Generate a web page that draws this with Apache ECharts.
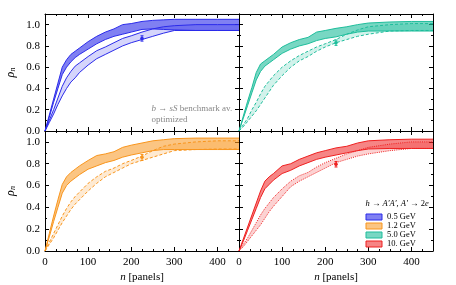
<!DOCTYPE html>
<html><head><meta charset="utf-8">
<script src="https://cdn.jsdelivr.net/npm/echarts@6/dist/echarts.min.js"></script>
<style>html,body{margin:0;padding:0;background:#fff}#c{width:456px;height:285px}</style>
</head><body><div id="c"></div>
<script>
// ---- data ----
const nPanels = [0,10,20,30,40,50,60,70,80,100,120,140,160,180,200,225,250,275,300,350,400,450];

const blueDarkUpper  = [0,0.15,0.30,0.45,0.60,0.67,0.72,0.75,0.78,0.84,0.89,0.93,0.96,1.00,1.01,1.03,1.04,1.045,1.05,1.05,1.05,1.05];
const blueDarkLower  = [0,0.13,0.27,0.40,0.53,0.60,0.65,0.69,0.72,0.77,0.82,0.86,0.89,0.91,0.93,0.955,0.96,0.955,0.95,0.945,0.945,0.945];
const blueLightUpper = [0,0.10,0.20,0.31,0.42,0.50,0.56,0.61,0.64,0.70,0.755,0.79,0.83,0.87,0.895,0.93,0.96,0.98,0.99,1.00,1.00,1.00];
const blueLightLower = [0,0.08,0.16,0.25,0.33,0.40,0.46,0.50,0.55,0.62,0.68,0.72,0.76,0.80,0.83,0.86,0.89,0.92,0.945,0.945,0.945,0.945];

const tealDarkUpper  = [0,0.14,0.28,0.41,0.55,0.63,0.66,0.69,0.72,0.79,0.83,0.86,0.88,0.93,0.945,0.965,0.98,1.00,1.015,1.025,1.03,1.03];
const tealDarkLower  = [0,0.12,0.24,0.36,0.48,0.56,0.61,0.64,0.67,0.73,0.77,0.80,0.82,0.85,0.87,0.885,0.91,0.93,0.94,0.94,0.94,0.94];
const tealLightUpper = [0,0.06,0.12,0.20,0.27,0.35,0.42,0.47,0.52,0.60,0.66,0.71,0.75,0.79,0.82,0.86,0.91,0.95,0.98,1.00,1.01,1.01];
const tealLightLower = [0,0.04,0.09,0.14,0.19,0.25,0.31,0.37,0.43,0.52,0.60,0.66,0.70,0.75,0.79,0.83,0.86,0.89,0.91,0.94,0.945,0.945];

const orangeDarkUpper  = [0,0.16,0.32,0.47,0.61,0.68,0.72,0.75,0.78,0.83,0.875,0.89,0.91,0.95,0.97,0.99,1.01,1.02,1.03,1.035,1.035,1.035];
const orangeDarkLower  = [0,0.13,0.27,0.40,0.53,0.60,0.64,0.67,0.70,0.75,0.78,0.81,0.83,0.86,0.88,0.90,0.92,0.93,0.93,0.93,0.93,0.93];
const orangeLightUpper = [0,0.08,0.16,0.24,0.32,0.39,0.45,0.50,0.54,0.62,0.68,0.73,0.76,0.80,0.83,0.87,0.92,0.96,0.98,1.00,1.01,1.01];
const orangeLightLower = [0,0.06,0.12,0.19,0.26,0.32,0.38,0.43,0.47,0.55,0.62,0.68,0.72,0.76,0.80,0.83,0.86,0.89,0.92,0.93,0.935,0.935];

const redDarkUpper  = [0,0.11,0.22,0.33,0.44,0.55,0.64,0.68,0.71,0.78,0.80,0.84,0.87,0.90,0.92,0.945,0.96,0.99,1.01,1.02,1.025,1.025];
const redDarkLower  = [0,0.09,0.19,0.29,0.39,0.49,0.57,0.61,0.65,0.71,0.74,0.78,0.81,0.84,0.86,0.88,0.90,0.92,0.935,0.94,0.94,0.94];
const redLightUpper = [0,0.06,0.12,0.19,0.26,0.33,0.39,0.44,0.49,0.57,0.64,0.69,0.72,0.77,0.81,0.85,0.89,0.92,0.95,0.98,1.00,1.00];
const redLightLower = [0,0.04,0.09,0.14,0.19,0.24,0.30,0.36,0.41,0.50,0.59,0.64,0.68,0.72,0.76,0.81,0.84,0.87,0.89,0.92,0.94,0.94];

// reference points [n, value, low, high]
const bluePoint   = [225, 0.870, 0.845, 0.895];
const tealPoint   = [225, 0.830, 0.805, 0.855];
const orangePoint = [225, 0.860, 0.830, 0.885];
const redPoint    = [225, 0.795, 0.770, 0.820];

const legendNames = ['0.5 GeV','1.2 GeV','5.0 GeV','10. GeV'];
const xTickStep = 100, xMax = 450, yTickStep = 0.2, yMax = 1.1;

// ---- styling ----
const FONT = 'Liberation Serif';
const panels = [
  {g:0, name:'0.5 GeV', line:'#2b2bea', dark:'rgba(43,43,234,0.6)', light:'rgba(43,43,234,0.2)', dash:'solid',
   dU:blueDarkUpper, dL:blueDarkLower, lU:blueLightUpper, lL:blueLightLower, pt:bluePoint},
  {g:1, name:'5.0 GeV', line:'#1ebd9b', dark:'rgba(30,189,155,0.6)', light:'rgba(30,189,155,0.2)', dash:[3,2],
   dU:tealDarkUpper, dL:tealDarkLower, lU:tealLightUpper, lL:tealLightLower, pt:tealPoint},
  {g:2, name:'1.2 GeV', line:'#f8951d', dark:'rgba(248,149,29,0.55)', light:'rgba(248,149,29,0.2)', dash:[3,2],
   dU:orangeDarkUpper, dL:orangeDarkLower, lU:orangeLightUpper, lL:orangeLightLower, pt:orangePoint},
  {g:3, name:'10. GeV', line:'#ee2020', dark:'rgba(238,32,32,0.55)', light:'rgba(238,32,32,0.2)', dash:[1,1.2],
   dU:redDarkUpper, dL:redDarkLower, lU:redLightUpper, lL:redLightLower, pt:redPoint}
];

const grids = [
  {left:45, top:14, width:194, height:117},
  {left:239, top:14, width:194, height:117},
  {left:45, top:131, width:194, height:120},
  {left:239, top:131, width:194, height:120}
];

const tickCommon = {
  axisLine:{show:true, onZero:false, lineStyle:{color:'#000', width:1}},
  splitLine:{show:false}
};

const xAxes = [], yAxes = [];
grids.forEach((gr, g) => {
  const bottomRow = g >= 2, leftCol = (g % 2) === 0;
  ['bottom','top'].forEach(pos => {
    const main = pos === 'bottom';
    xAxes.push(Object.assign({}, tickCommon, {
      type:'value', gridIndex:g, position:pos, min:0, max:xMax, interval:xTickStep,
      axisTick:{show:true, inside:true, length:4, lineStyle:{color:'#000'}},
      minorTick:{show:true, splitNumber:4, length:2, lineStyle:{color:'#000'}},
      axisLabel:{show: main && bottomRow, showMaxLabel:false, fontFamily:FONT, fontSize:11, color:'#000', margin:6},
      name: (main && bottomRow) ? '{i|n} [panels]' : '',
      nameLocation:'middle', nameGap:21,
      nameTextStyle:{fontFamily:FONT, fontSize:11, color:'#000',
        rich:{i:{fontFamily:FONT, fontSize:11, fontStyle:'italic', color:'#000'}}}
    }));
  });
  ['left','right'].forEach(pos => {
    const main = pos === 'left';
    yAxes.push(Object.assign({}, tickCommon, {
      type:'value', gridIndex:g, position:pos, min:0, max:yMax, interval:yTickStep,
      axisTick:{show:true, inside:true, length:4, lineStyle:{color:'#000'}},
      minorTick:{show:true, splitNumber:2, length:2, lineStyle:{color:'#000'}},
      axisLabel:{show: main && leftCol, showMaxLabel:false, fontFamily:FONT, fontSize:11, color:'#000', margin:5,
        formatter: v => v.toFixed(1)},
      name: (main && leftCol) ? '{r|ρ}{s|n}' : '',
      nameLocation:'middle', nameRotate:90, nameGap:28,
      nameTextStyle:{fontFamily:FONT, fontSize:12, color:'#000',
        rich:{r:{fontFamily:FONT, fontSize:12, fontStyle:'italic', color:'#000'},
              s:{fontFamily:FONT, fontSize:8, fontStyle:'italic', color:'#000', padding:[5,0,0,0]}}}
    }));
  });
});

function bandSeries(p, upper, lower, fill, name) {
  const data = nPanels.map((n, i) => [n, lower[i], upper[i]]);
  return {
    type:'custom', name: name, xAxisIndex:2*p.g, yAxisIndex:2*p.g, silent:true,
    itemStyle:{color:fill},
    encode:{x:0, y:[1,2]},
    data: data,
    renderItem: function (params, api) {
      if (params.dataIndex !== 0) return null;
      const pts = [];
      for (let i = 0; i < data.length; i++) pts.push(api.coord([data[i][0], data[i][2]]));
      for (let i = data.length - 1; i >= 0; i--) pts.push(api.coord([data[i][0], data[i][1]]));
      return {type:'polygon', shape:{points:pts}, style:{fill:fill}};
    }
  };
}
function lineSeries(p, arr, type, z) {
  return {
    type:'line', xAxisIndex:2*p.g, yAxisIndex:2*p.g, silent:true, symbol:'none', z:z,
    data: nPanels.map((n, i) => [n, arr[i]]),
    lineStyle:{color:p.line, width:1, type:type}
  };
}
function pointSeries(p) {
  return {
    type:'custom', xAxisIndex:2*p.g, yAxisIndex:2*p.g, silent:true, z:5,
    data:[p.pt], encode:{x:0, y:[1,2,3]},
    renderItem: function (params, api) {
      const c = api.coord([api.value(0), api.value(1)]);
      const lo = api.coord([api.value(0), api.value(2)]);
      const hi = api.coord([api.value(0), api.value(3)]);
      const st = {stroke:p.line, lineWidth:1};
      return {type:'group', children:[
        {type:'line', shape:{x1:c[0], y1:lo[1], x2:c[0], y2:hi[1]}, style:st},
        {type:'line', shape:{x1:c[0]-1.5, y1:lo[1], x2:c[0]+1.5, y2:lo[1]}, style:st},
        {type:'line', shape:{x1:c[0]-1.5, y1:hi[1], x2:c[0]+1.5, y2:hi[1]}, style:st},
        {type:'circle', shape:{cx:c[0], cy:c[1], r:1.8}, style:{fill:p.line}}
      ]};
    }
  };
}

const series = [];
panels.forEach(p => {
  series.push(bandSeries(p, p.lU, p.lL, p.light, 'light ' + p.name));
  series.push(bandSeries(p, p.dU, p.dL, p.dark, p.name));
  series.push(lineSeries(p, p.lU, p.dash, 3));
  series.push(lineSeries(p, p.lL, p.dash, 3));
  series.push(lineSeries(p, p.dU, 'solid', 4));
  series.push(lineSeries(p, p.dL, 'solid', 4));
  series.push(pointSeries(p));
});

const legendData = legendNames.map(nm => {
  const p = panels.find(q => q.name === nm);
  return {name:nm, itemStyle:{color:p.dark, borderColor:p.line, borderWidth:1}};
});

const chart = echarts.init(document.getElementById('c'), null, {renderer:'canvas'});
chart.setOption({
  animation:false,
  backgroundColor:'#fff',
  grid: grids,
  xAxis: xAxes,
  yAxis: yAxes,
  series: series,
  legend:{
    orient:'vertical', left:365.5, top:212.5, padding:0, itemWidth:16, itemHeight:6, itemGap:0,
    icon:'rect', selectedMode:false, itemTextGap:5,
    textStyle:{fontFamily:FONT, fontSize:8.5, lineHeight:8.5, color:'#000'},
    data: legendData
  },
  graphic:[
    {type:'text', left:365.5, top:199, silent:true,
     style:{text:'{i|h} → {i|A′A′}, {i|A′} → 2{i|e}', fontFamily:FONT, fontSize:8.5, fill:'#000',
       rich:{i:{fontFamily:FONT, fontSize:8.5, fontStyle:'italic', fill:'#000'}}}},
    {type:'text', left:151.5, top:104.5, silent:true,
     style:{text:'{i|b} → {i|sS} benchmark av.', fontFamily:FONT, fontSize:9, fill:'#888',
       rich:{i:{fontFamily:FONT, fontSize:9, fontStyle:'italic', fill:'#888'}}}},
    {type:'text', left:151.5, top:115.5, silent:true,
     style:{text:'optimized', fontFamily:FONT, fontSize:9, fill:'#888'}}
  ]
});
</script></body></html>
